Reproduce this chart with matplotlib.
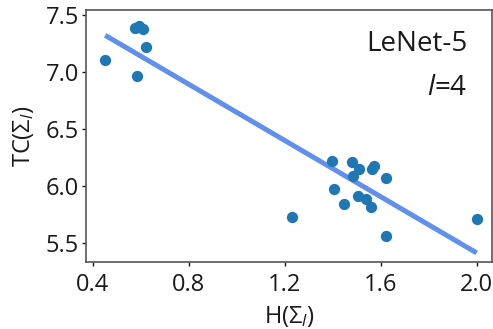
import numpy as np
import matplotlib
matplotlib.use('Agg')
import matplotlib.pyplot as plt

# H(Sigma_l) e TC(Sigma_l)
entropia = [0.452, 0.578, 0.594, 0.611, 0.622, 0.583,
            1.398, 1.482, 1.511, 1.486, 1.562, 1.573, 1.622,
            1.405, 1.447, 1.504, 1.539, 1.558, 1.621, 1.232, 2.0]
tc = [7.106, 7.383, 7.403, 7.375, 7.217, 6.968,
      6.221, 6.21, 6.151, 6.092, 6.151, 6.18, 6.069,
      5.976, 5.842, 5.914, 5.888, 5.815, 5.567, 5.733, 5.71]
xticks = [0.4, 0.8, 1.2, 1.6, 2.0]
yticks = [5.5, 6.0, 6.5, 7.0, 7.5]

plt.rcParams['font.family'] = ['Open Sans', 'DejaVu Sans']
plt.rcParams['mathtext.fontset'] = 'custom'
plt.rcParams['mathtext.rm'] = 'Open Sans'
plt.rcParams['mathtext.it'] = 'Open Sans:italic'

x = np.array(entropia)
y = np.array(tc)
a, b = np.polyfit(x, y, 1)
xs = np.array([x.min(), x.max()])

fig = plt.figure(figsize=(4.93, 3.29), dpi=100)
ax = fig.add_axes([0.1744, 0.2036, 0.8236, 0.766])
ax.plot(xs, a * xs + b, color='#6190ec', lw=3.6, solid_capstyle='butt', zorder=1)
ax.scatter(x, y, s=66, color='#1f77b4', zorder=2, linewidths=0)

ax.set_xlim(0.372, 2.064)
ax.set_ylim(5.336, 7.544)
ax.set_xticks(xticks)
ax.set_yticks(yticks)
ax.set_xticklabels(['%.1f' % t for t in xticks])
ax.set_yticklabels(['%.1f' % t for t in yticks])
ax.tick_params(labelsize=17, length=3, width=1, colors='#1a1a1a')
ax.tick_params(axis='x', pad=5)
ax.tick_params(axis='y', pad=2)
for s in ax.spines.values():
    s.set_color('#555555')
    s.set_linewidth(1.2)

ax.set_xlabel(r'H($\Sigma_l$)', fontsize=17, labelpad=5, color='#1a1a1a')
ax.set_ylabel(r'TC($\Sigma_l$)', fontsize=17, labelpad=7, color='#1a1a1a')

ax.text(0.94, 0.865, 'LeNet-5', transform=ax.transAxes, ha='right', va='center', fontsize=20, color='#1a1a1a')
ax.text(0.94, 0.69, r'$l$=4', transform=ax.transAxes, ha='right', va='center', fontsize=20, color='#1a1a1a')

fig.savefig('out.png', dpi=100)
